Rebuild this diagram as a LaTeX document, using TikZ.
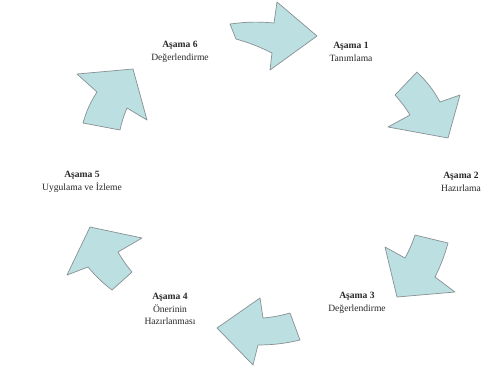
\documentclass[tikz,border=0pt]{standalone}
\usepackage{fontspec}
\setmainfont{Liberation Serif}
\definecolor{arrfill}{RGB}{188,223,225}
\definecolor{arrline}{RGB}{135,145,148}
\definecolor{txt}{RGB}{40,40,40}
\begin{document}
\begin{tikzpicture}[x=1bp,y=-1bp,
  arr/.style={fill=arrfill,draw=arrline,line width=0.7bp,line join=round},
  lbl/.style={align=center,inner sep=0pt,font=\fontsize{9.6}{12.5}\selectfont,text=txt}]
\useasboundingbox[fill=white] (0,0) rectangle (484,370);
% Arrow 1 (top)
\draw[arr] (230,24) to[bend left=6] (274,23) -- (277,2) -- (317,36) -- (270,70) -- (272,53) to[bend right=5] (236,39) -- cycle;
% Arrow 2 (right upper)
\draw[arr] (417,72) to[bend left=8] (440,102) -- (460,95) -- (448,138) -- (388,127) -- (410,115) to[bend right=5] (395,95) -- cycle;
% Arrow 3 (right lower)
\draw[arr] (397,297) -- (455,292) -- (435,277) to[bend right=5] (448,243) -- (415,235) to[bend left=5] (405,258) -- (385,247) -- cycle;
% Arrow 4 (bottom)
\draw[arr] (217,328) -- (260,298) -- (263,318) to[bend right=5] (290,313) -- (300,340) to[bend left=6] (258,345) -- (253,365) -- cycle;
% Arrow 5 (left lower)
\draw[arr] (90,227) -- (142,238) -- (118,252) to[bend right=5] (132,272) -- (112,290) to[bend left=6] (88,267) -- (67,275) -- cycle;
% Arrow 6 (left upper)
\draw[arr] (133,69) -- (147,120) -- (127,108) to[bend right=5] (120,130) -- (83,123) to[bend left=8] (97,92) -- (77,74) -- cycle;
% Labels
\node[lbl] (s6) at (180,52) {\textbf{Aşama 6}\\Değerlendirme};
\node[lbl] (s1) at (351,52) {\textbf{Aşama 1}\\Tanımlama};
\node[lbl] (s2) at (461,182) {\textbf{Aşama 2}\\Hazırlama};
\node[lbl] (s5) at (82,182) {\textbf{Aşama 5}\\Uygulama ve İzleme};
\node[lbl] (s3) at (357,303) {\textbf{Aşama 3}\\Değerlendirme};
\node[lbl] (s4) at (170,309) {\textbf{Aşama 4}\\Önerinin\\Hazırlanması};
\end{tikzpicture}
\end{document}
